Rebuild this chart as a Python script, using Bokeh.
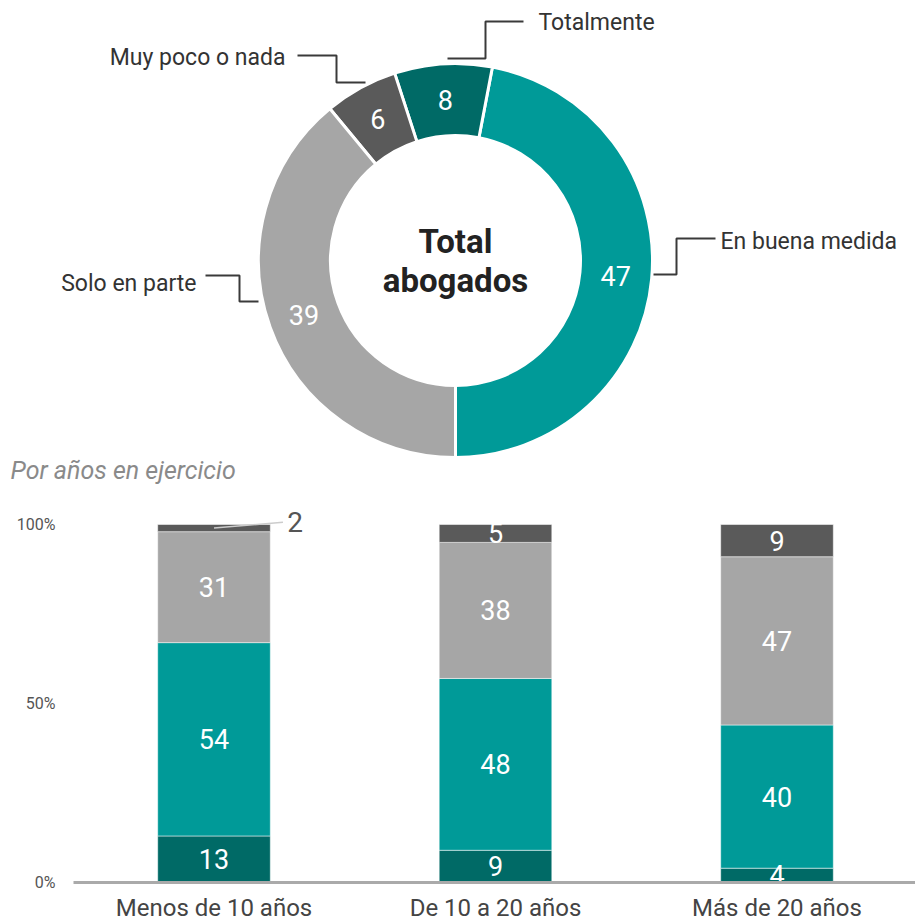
import math
from bokeh.plotting import figure
from bokeh.layouts import column
from bokeh.models import Range1d, ColumnDataSource
from bokeh.core.properties import value
from bokeh.embed import file_html
from bokeh.resources import INLINE

# ---------------- data ----------------
answers = ["Totalmente", "En buena medida", "Solo en parte", "Muy poco o nada"]
total_values = [8, 47, 39, 6]
colors = ["#006A66", "#009A98", "#A6A6A6", "#5A5A5A"]

groups = ["Menos de 10 años", "De 10 a 20 años", "Más de 20 años"]
totalmente = [13, 9, 4]
en_buena_medida = [54, 48, 40]
solo_en_parte = [31, 38, 47]
muy_poco_o_nada = [2, 5, 9]

yticks = [0, 50, 100]
ytick_labels = ["0%", "50%", "100%"]
center_title = ["Total", "abogados"]
subtitle = "Por años en ejercicio"

FONT = value("Roboto")

# ---------------- donut ----------------
W = 915
H1 = 485
CX, CY = 455, 260  # page position of donut centre


def dx(px):
    return px - CX


def dy(py):
    return CY - py


p1 = figure(width=W, height=H1,
            x_range=Range1d(0 - CX, W - CX),
            y_range=Range1d(CY - H1, CY),
            toolbar_location=None, output_backend="svg", min_border=0,
            x_axis_location=None, y_axis_location=None)
p1.grid.visible = False
p1.outline_line_color = None

order = [1, 0, 3, 2]  # anticlockwise from the bottom
tot = sum(total_values)
start = -math.pi / 2
starts, ends, mids = [], [], []
for i in order:
    sweep = total_values[i] / tot * 2 * math.pi
    starts.append(start)
    ends.append(start + sweep)
    mids.append(start + sweep / 2)
    start += sweep

R_IN, R_OUT = 125, 197
p1.annular_wedge(x=0, y=0, inner_radius=R_IN, outer_radius=R_OUT,
                 start_angle=starts, end_angle=ends,
                 fill_color=[colors[i] for i in order],
                 line_color="white", line_width=3)

r_mid = (R_IN + R_OUT) / 2
p1.text(x=[r_mid * math.cos(m) for m in mids],
        y=[r_mid * math.sin(m) for m in mids],
        text=[str(total_values[i]) for i in order],
        text_align="center", text_baseline="middle",
        text_color="white", text_font=FONT, text_font_size="27px")

# centre title
p1.text(x=[0, 0], y=[dy(241), dy(280)], text=center_title,
        text_align="center", text_baseline="middle",
        text_color="#222222", text_font=FONT, text_font_size="33px",
        text_font_style="bold")

# leader lines (page coordinates)
leaders = {
    "Totalmente": [(523, 21), (485, 21), (485, 58), (447, 58)],
    "Muy poco o nada": [(297, 55), (336, 55), (336, 82), (365, 82)],
    "Solo en parte": [(205, 275), (239, 275), (239, 301), (258, 301)],
    "En buena medida": [(653, 274), (676, 274), (676, 238), (715, 238)],
}
label_pos = {
    "Totalmente": (538, 22, "left"),
    "Muy poco o nada": (285, 57, "right"),
    "Solo en parte": (196, 283, "right"),
    "En buena medida": (720, 241, "left"),
}
p1.multi_line(xs=[[dx(a) for a, b in leaders[k]] for k in answers],
              ys=[[dy(b) for a, b in leaders[k]] for k in answers],
              line_color="#3a3a3a", line_width=2)
for align in ("left", "right"):
    ks = [k for k in answers if label_pos[k][2] == align]
    p1.text(x=[dx(label_pos[k][0]) for k in ks],
            y=[dy(label_pos[k][1]) for k in ks],
            text=ks, text_align=align, text_baseline="middle",
            text_color="#333333", text_font=FONT, text_font_size="23px")

p1.text(x=[dx(10)], y=[dy(470)], text=[subtitle], text_align="left",
        text_baseline="middle", text_color="#8a8a8a", text_font=FONT,
        text_font_size="25px", text_font_style="italic")

# ---------------- stacked bars ----------------
TOP = H1
H2 = 923 - TOP
BOTTOM = TOP + H2
Y0, Y100 = 882, 524
ppu = (Y0 - Y100) / 100.0
STEP = 281.5
C0 = 213.5


def bx(px):
    return (px - C0) / STEP + 0.5


p2 = figure(width=W, height=H2,
            x_range=Range1d(bx(0), bx(W)),
            y_range=Range1d(-(BOTTOM - Y0) / ppu, (Y0 - TOP) / ppu),
            toolbar_location=None, output_backend="svg",
            x_axis_location=None, y_axis_location=None, min_border=0)
p2.grid.visible = False
p2.outline_line_color = None

xs = [i + 0.5 for i in range(len(groups))]
series = [totalmente, en_buena_medida, solo_en_parte, muy_poco_o_nada]
keys = ["totalmente", "en_buena_medida", "solo_en_parte", "muy_poco_o_nada"]
src = ColumnDataSource(dict(x=xs, **{k: s for k, s in zip(keys, series)}))
p2.vbar_stack(keys, x="x", width=0.4, fill_color=colors,
              line_color="white", line_width=1, line_alpha=0.5, source=src)

in_x, in_y, in_t = [], [], []
out_x, out_y, out_t, lead_xs, lead_ys = [], [], [], [], []
for gi, x in enumerate(xs):
    cum = 0
    for s in series:
        v = s[gi]
        mid = cum + v / 2
        if v >= 3:
            in_x.append(x); in_y.append(mid); in_t.append(str(v))
        else:
            ex, ey = x + 0.245, mid + 1.6
            lead_xs.append([x, ex]); lead_ys.append([mid, ey])
            out_x.append(ex + 0.015); out_y.append(ey); out_t.append(str(v))
        cum += v

p2.multi_line(xs=lead_xs, ys=lead_ys, line_color="#cccccc", line_width=1.5)
p2.text(x=in_x, y=in_y, text=in_t, text_align="center", text_baseline="middle",
        text_color="white", text_font=FONT, text_font_size="27px")
p2.text(x=out_x, y=out_y, text=out_t, text_align="left", text_baseline="middle",
        text_color="#555555", text_font=FONT, text_font_size="28px")

# baseline
p2.segment(x0=[bx(73)], y0=[0], x1=[bx(W)], y1=[0],
           line_color="#aaaaaa", line_width=3)

# y tick labels
p2.text(x=[bx(55)] * len(yticks), y=yticks, text=ytick_labels,
        text_align="right", text_baseline="middle", text_color="#555555",
        text_font=FONT, text_font_size="16px")

# category labels
p2.text(x=xs, y=[(Y0 - 907) / ppu] * len(xs), text=groups,
        text_align="center", text_baseline="middle", text_color="#444444",
        text_font=FONT, text_font_size="24px")

layout = column(p1, p2)
open("out.html", "w").write(file_html(layout, INLINE))
